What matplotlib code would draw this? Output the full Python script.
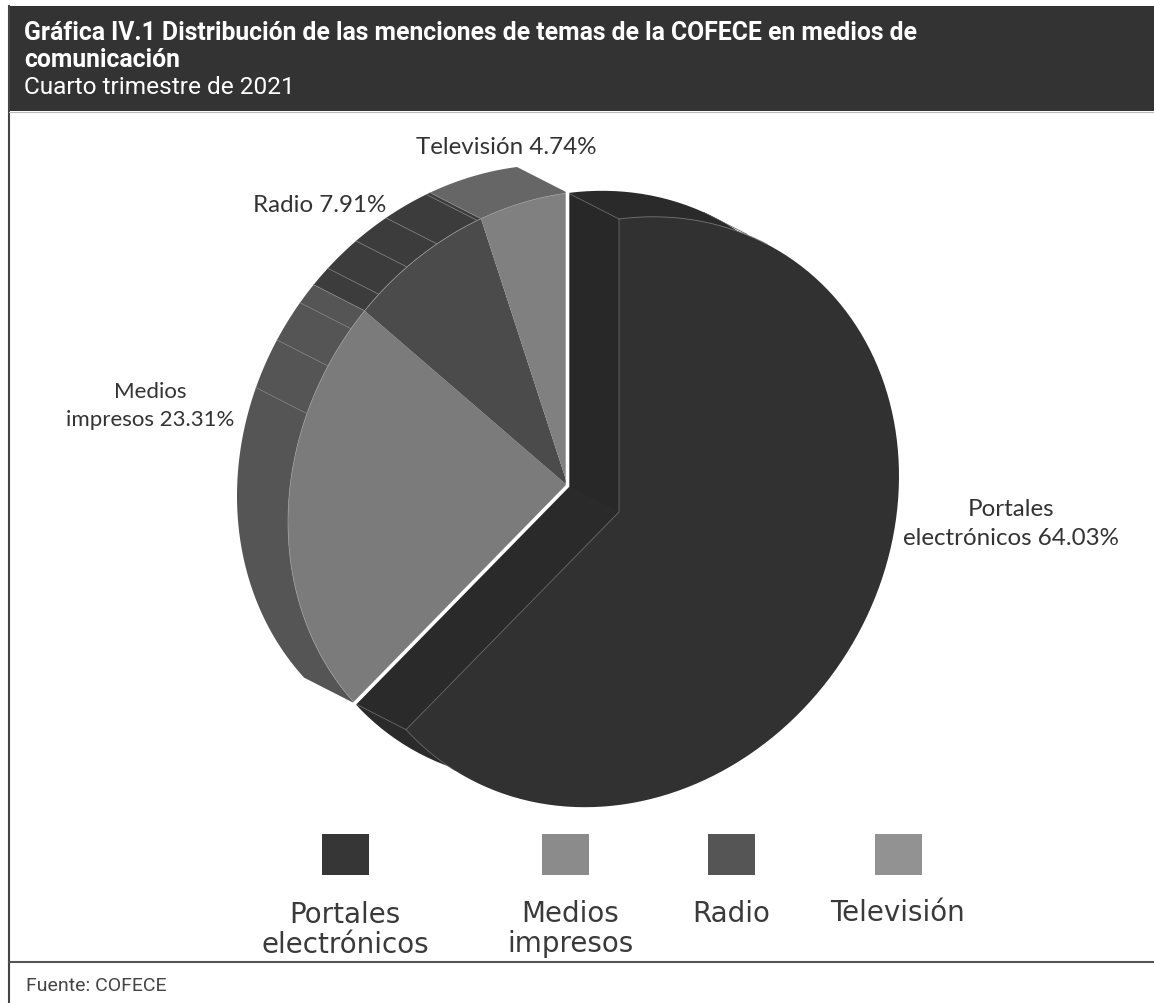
import numpy as np
import matplotlib
matplotlib.use("Agg")
import matplotlib.pyplot as plt
from matplotlib.patches import Polygon, Rectangle

# Data
categories = ["Portales electrónicos", "Medios impresos", "Radio", "Televisión"]
shares = [64.03, 23.31, 7.91, 4.74]
pie_labels = ["Portales\nelectrónicos 64.03%", "Medios\nimpresos 23.31%", "Radio 7.91%", "Televisión 4.74%"]
legend_labels = ["Portales\nelectrónicos", "Medios\nimpresos", "Radio", "Televisión"]

face_colors = ["#313131", "#7b7b7b", "#4b4b4b", "#808080"]
side_colors = ["#2a2a2a", "#555555", "#3c3c3c", "#666666"]
legend_colors = ["#363636", "#8b8b8b", "#555555", "#929292"]

# tilted pie geometry, in pixels
center = np.array([568.0, 487.0])
u = np.array([280.0, -36.0])
v = np.array([0.0, -293.0])
depth = np.array([51.0, 26.0])


def arc(c, start, end):
    t = np.radians(np.linspace(start, end, 120))
    return c + np.outer(np.sin(t), u) + np.outer(np.cos(t), v)


def pt(c, a):
    return arc(c, a, a)[0]


fig = plt.figure(figsize=(11.54, 10.04), dpi=100)
ax = fig.add_axes([0, 0, 1, 1])
ax.set_xlim(0, 1154)
ax.set_ylim(1004, 0)
ax.axis("off")

# header and frame
ax.add_patch(Rectangle((8, 7), 1146, 105, fc="#333333", ec="none"))
ax.plot([9, 9], [7, 1004], color="#444444", lw=1.5)
ax.plot([9, 1154], [963, 963], color="#555555", lw=1.5)
ax.plot([9, 1154], [112.5, 112.5], color="#bbbbbb", lw=0.8)

ax.text(24, 33, "Gráfica IV.1 Distribución de las menciones de temas de la COFECE en medios de",
        color="white", family="Roboto", weight="bold", size=17.8, va="center")
ax.text(24, 60, "comunicación", color="white", family="Roboto", weight="bold", size=17.8, va="center")
ax.text(24, 88, "Cuarto trimestre de 2021", color="white", family="Roboto", size=17.6, va="center")
ax.text(26, 986, "Fuente: COFECE", color="#444444", family="Roboto", size=14, va="center")

# slice angles, clockwise from 12 o'clock; the drawing sits 1 degree back
edges = np.cumsum([0] + shares) * 3.6 - 1
end = edges[1]
front = center + depth
back = center

# Portales: back face, two inner walls, then the front face
ax.add_patch(Polygon(np.vstack([[back], arc(back, 0, end)]), fc=side_colors[0], ec="none", zorder=2))
wall = np.array([back, pt(back, 0), pt(front, 0), front])
ax.add_patch(Polygon(wall, fc="#282828", ec="none", zorder=3))
wall = np.array([back, pt(back, end), pt(front, end), front])
ax.add_patch(Polygon(wall, fc=side_colors[0], ec="none", zorder=3))
ax.add_patch(Polygon(np.vstack([[front], arc(front, 0, end)]), fc=face_colors[0], ec="none", zorder=4))

thin = dict(color="#6a6a6a", lw=0.6, zorder=5)
ax.plot(*np.array([pt(front, 0), front, pt(front, end)]).T, **thin)
ax.plot(*np.array([pt(back, 0), pt(front, 0)]).T, **thin)
ax.plot(*np.array([pt(back, end), pt(front, end)]).T, **thin)
ax.plot(*arc(front, 0, 32).T, color="#777777", lw=0.6, zorder=5)
ax.plot(*arc(front, 216, end).T, **thin)
ax.plot(*np.array([pt(back, 29), pt(back, 29) + depth * 0.85]).T, color="#555555", lw=0.5, zorder=3)

# other three slices, pushed back by the same depth
rear = center - depth
for i in [1, 2, 3]:
    a, b = edges[i], edges[i + 1] if i < 3 else 360
    strip = np.vstack([arc(center, a, b), arc(rear, b, a)])
    ax.add_patch(Polygon(strip, fc=side_colors[i], ec="none", zorder=2))
for i in [1, 2, 3]:
    a, b = edges[i], edges[i + 1] if i < 3 else 360
    ax.add_patch(Polygon(np.vstack([[center], arc(center, a, b)]), fc=face_colors[i], ec="none", zorder=3))
    ax.plot(*arc(center, a, b).T, color="#9a9a9a", lw=0.5, zorder=4)

# seams across the side strips
seams = [291.2, 301, 309.2, edges[2], 317.5, 324.9, 332.1, edges[3] - 0.8, edges[3]]
for s in seams:
    ax.plot(*np.array([pt(center, s), pt(rear, s)]).T, color="#8a8a8a", lw=0.5, zorder=4)

# white gap between Portales and the rest
gap = np.array([pt(center, 0) + [0, -4], center, pt(center, end) + [-3, 3]])
ax.plot(gap[:, 0] - 0.5, gap[:, 1], color="white", lw=2.6, zorder=6, solid_joinstyle="miter")

# slice labels
label_pos = [(1011, 524), (150, 406), (320, 206), (506, 148)]
label_size = [17.4, 16, 17.4, 17.4]
for txt, (x, y), fs in zip(pie_labels, label_pos, label_size):
    ax.text(x, y, txt, color="#333333", family="Lato", size=fs, ha="center", va="center", linespacing=1.45)

# legend
swatch_x = [322, 542, 708, 875]
text_pos = [(345, 930), (570, 929), (731, 914), (897, 913)]
for col, sx, txt, (x, y) in zip(legend_colors, swatch_x, legend_labels, text_pos):
    ax.add_patch(Rectangle((sx, 835), 47, 41, fc=col, ec="none"))
    ax.text(x, y, txt, color="#3a3a3a", family="DejaVu Sans", size=20, ha="center", va="center", linespacing=1.08)

fig.savefig("out.png", dpi=100)
plt.close(fig)
